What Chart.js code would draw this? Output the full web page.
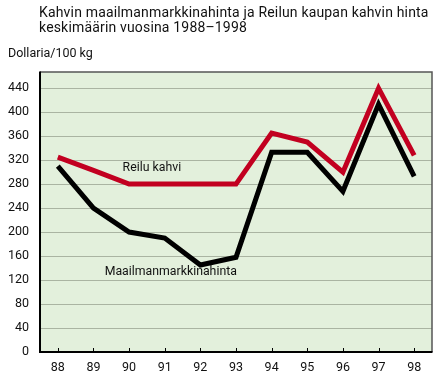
<!DOCTYPE html>
<html>
<head>
<meta charset="utf-8">
<script src="https://cdn.jsdelivr.net/npm/chart.js@4.4.1/dist/chart.umd.min.js"></script>
<style>
  body { margin: 0; background: #fff; }
  #wrap { position: relative; width: 434px; height: 373px; font-family: Roboto, sans-serif; color: #111; }
  #title { position: absolute; left: 39px; top: 5px; font-size: 14px; line-height: 15px; letter-spacing: 0.17px; white-space: nowrap; }
  #unit { position: absolute; left: 8px; top: 45px; font-size: 12.5px; }
  canvas { position: absolute; left: 0; top: 0; }
</style>
</head>
<body>
<div id="wrap">
  <canvas id="coffee" width="434" height="373"></canvas>
  <div id="title">Kahvin maailmanmarkkinahinta ja Reilun kaupan kahvin hinta<br>keskimäärin vuosina 1988–1998</div>
  <div id="unit">Dollaria/100 kg</div>
</div>

<script>
  // vuodet ja hinnat (dollaria / 100 kg)
  const years = ['88', '89', '90', '91', '92', '93', '94', '95', '96', '97', '98'];
  const fairPrice = [325, 303, 280, 280, 280, 280, 365, 350, 300, 440, 328];
  const worldPrice = [310, 240, 200, 190, 145, 158, 333, 333, 268, 413, 293];
  const yTicks = [0, 40, 80, 120, 160, 200, 240, 280, 320, 360, 400, 440];

  // tekstit viivojen vieressä: [teksti, x-indeksi, arvo]
  const lineLabels = [
    ['Reilu kahvi', 2.64, 307],
    ['Maailmanmarkkinahinta', 3.17, 133]
  ];

  const chartFrame = {
    id: 'chartFrame',
    beforeDraw(chart) {
      const c = chart.ctx, a = chart.chartArea;
      c.save();
      c.fillStyle = '#e3f0dc';
      c.fillRect(a.left, a.top, a.right - a.left, a.bottom - a.top);
      c.restore();
    },
    afterDatasetsDraw(chart) {
      const c = chart.ctx, a = chart.chartArea;
      const x = chart.scales.x, y = chart.scales.y;
      c.save();
      // reunat
      c.strokeStyle = '#555';
      c.lineWidth = 1.5;
      c.beginPath();
      c.moveTo(a.left, a.top);
      c.lineTo(a.right, a.top);
      c.lineTo(a.right, a.bottom);
      c.stroke();
      c.strokeStyle = '#000';
      c.lineWidth = 2;
      c.beginPath();
      c.moveTo(a.left, a.top - 0.5);
      c.lineTo(a.left, a.bottom);
      c.lineTo(a.right + 0.5, a.bottom);
      c.stroke();
      // x-akselin pikkuviivat
      c.lineWidth = 1;
      for (let i = 0; i < years.length; i++) {
        const px = Math.round(x.getPixelForTick(i)) + 0.5;
        c.beginPath();
        c.moveTo(px, a.bottom);
        c.lineTo(px, a.bottom - 4);
        c.stroke();
      }
      // viivojen nimet
      c.fillStyle = '#111';
      c.font = '12.3px Roboto, sans-serif';
      c.textAlign = 'center';
      c.textBaseline = 'middle';
      lineLabels.forEach(l => {
        c.fillText(l[0], x.getPixelForValue(l[1]), y.getPixelForValue(l[2]));
      });
      c.restore();
    }
  };

  new Chart(document.getElementById('coffee'), {
    type: 'line',
    data: {
      labels: years,
      datasets: [
        { label: 'Reilu kahvi', data: fairPrice, borderColor: '#c20020', borderWidth: 5,
          pointRadius: 0, tension: 0, borderJoinStyle: 'miter', borderCapStyle: 'butt' },
        { label: 'Maailmanmarkkinahinta', data: worldPrice, borderColor: '#000', borderWidth: 5,
          pointRadius: 0, tension: 0, borderJoinStyle: 'miter', borderCapStyle: 'butt' }
      ]
    },
    options: {
      responsive: false,
      animation: false,
      layout: { padding: { top: 72, right: 2, left: 0, bottom: 0 } },
      plugins: { legend: { display: false }, tooltip: { enabled: false } },
      scales: {
        x: {
          offset: true,
          grid: { display: false },
          border: { display: false },
          ticks: { color: '#111', font: { family: 'Roboto', size: 12.5 }, padding: 0 },
          afterFit(scale) { scale.height = 21; }
        },
        y: {
          min: 0,
          max: 467,
          afterBuildTicks(scale) { scale.ticks = yTicks.map(v => ({ value: v })); },
          grid: { color: '#aab4a2', lineWidth: 1, drawTicks: false },
          border: { display: false },
          ticks: { color: '#111', font: { family: 'Roboto', size: 12.5 }, padding: 11 },
          afterFit(scale) { scale.width = 40; }
        }
      }
    },
    plugins: [chartFrame]
  });
</script>
</body>
</html>
